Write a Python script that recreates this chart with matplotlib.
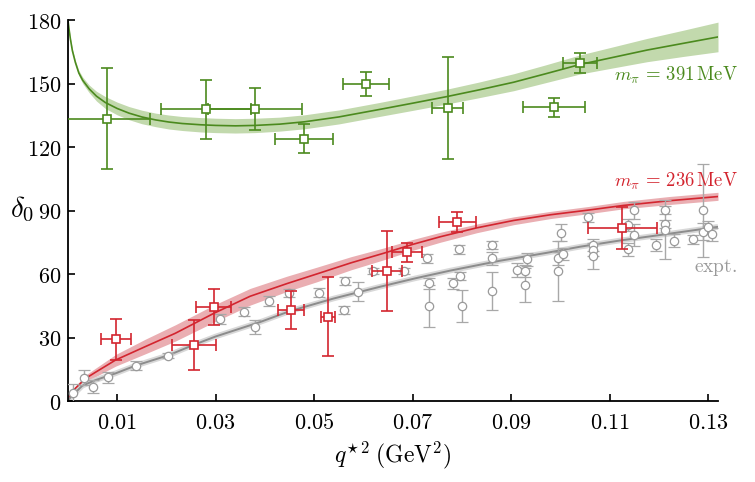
import numpy as np
import matplotlib
matplotlib.use('Agg')
import matplotlib.pyplot as plt
from matplotlib.ticker import FuncFormatter

plt.rcParams['mathtext.fontset'] = 'cm'
plt.rcParams['font.family'] = ['DejaVu Serif']

# --- experimental points (grey circles) ---
expt_x = [0.0011, 0.0032, 0.0051, 0.0081, 0.0139, 0.0204, 0.0309, 0.0358, 0.0380, 0.0409,
          0.0449, 0.0509, 0.0562, 0.0561, 0.0588, 0.0620, 0.0683, 0.0729, 0.0733, 0.0733,
          0.0782, 0.0795, 0.0796, 0.0800, 0.0861, 0.0861, 0.0861, 0.0912, 0.0932, 0.0928,
          0.0928, 0.1001, 0.0996, 0.1006, 0.0996, 0.1057, 0.1067, 0.1067, 0.1066, 0.1138,
          0.1150, 0.1150, 0.1138, 0.1194, 0.1213, 0.1213, 0.1213, 0.1230, 0.1269, 0.1289,
          0.1289, 0.1299, 0.1307]
expt_y = [3.6, 11.0, 6.8, 11.2, 16.7, 21.5, 38.7, 42.2, 35.0, 47.2,
          51.0, 51.2, 56.8, 43.0, 51.6, 61.5, 61.4, 67.4, 55.6, 45.0,
          55.6, 71.6, 59.0, 44.9, 73.7, 67.4, 52.1, 61.9, 66.9, 61.4,
          54.8, 79.5, 67.4, 69.4, 61.4, 86.8, 73.7, 71.3, 68.5, 83.1,
          90.2, 78.4, 71.7, 73.7, 90.2, 83.6, 81.0, 75.7, 76.4, 90.2,
          80.0, 82.0, 78.7]
expt_err = [4.5, 3.5, 3, 2.5, 2, 1, 2.5, 2, 3.5, 2.5,
            2, 2, 2, 2, 4.5, 1.5, 1.5, 2, 2.5, 10,
            2.5, 2, 2, 7.5, 2, 3, 9, 3.5, 3, 3,
            8, 4, 3, 3, 14, 2, 3, 3, 6, 3,
            4, 5, 3, 3, 2, 2, 14, 3, 2, 22,
            4, 3, 3]

# --- lattice, m_pi = 236 MeV (red squares) ---
red_x = [0.0098, 0.0256, 0.0296, 0.0453, 0.0528, 0.0648, 0.0688, 0.0791, 0.1126]
red_y = [29.1, 26.5, 44.3, 43.0, 39.8, 61.4, 70.2, 84.6, 81.6]
red_yerr = [9.5, 12, 8.5, 9, 18.7, 19, 4.4, 4.9, 10]
red_xerr = [0.003, 0.0044, 0.0036, 0.0026, 0.0015, 0.0031, 0.0031, 0.0037, 0.007]

# --- lattice, m_pi = 391 MeV (green squares) ---
grn_x = [0.008, 0.028, 0.038, 0.048, 0.0605, 0.0771, 0.0987, 0.104]
grn_y = [133.4, 137.8, 137.8, 124.0, 149.7, 138.3, 138.7, 159.5]
grn_yerr = [24, 14, 10, 7, 5.6, 24, 4.6, 4.7]
grn_xerr = [0.0087, 0.0092, 0.0095, 0.0059, 0.0047, 0.0031, 0.0063, 0.0035]

# --- fit curves ---
grn_cx = [0.0, 0.0002, 0.0005, 0.0009, 0.0015, 0.0022, 0.003, 0.0043, 0.0058, 0.0076,
          0.0100, 0.0124, 0.015, 0.0178, 0.0205, 0.0232, 0.027, 0.030, 0.034, 0.038,
          0.043, 0.048, 0.055, 0.0634, 0.070, 0.0769, 0.0835, 0.0905, 0.097, 0.104,
          0.111, 0.1176, 0.125, 0.132]
grn_cy = [180.0, 176.0, 171.0, 165.5, 160.0, 155.0, 151.5, 147.5, 144.0, 141.0,
          138.2, 136.0, 134.2, 132.8, 131.8, 131.1, 130.5, 130.2, 130.0, 130.2,
          130.8, 131.9, 134.2, 137.8, 140.7, 143.8, 147.0, 150.6, 154.6, 159.0,
          162.5, 165.8, 169.0, 172.0]
grn_hw = [0.0, 0.3, 0.5, 0.8, 1.0, 1.2, 1.5, 1.8, 2.3, 2.8,
          3.0, 3.1, 3.2, 3.2, 3.3, 3.3, 3.4, 3.4, 3.4, 3.4,
          3.3, 3.3, 3.3, 3.3, 3.4, 3.5, 3.7, 4.0, 4.2, 4.5,
          5.0, 5.5, 6.2, 7.0]

red_cx = [0.0, 0.0005, 0.0015, 0.0036, 0.0056, 0.0097, 0.0157, 0.0218, 0.0296, 0.037,
          0.0445, 0.0505, 0.0575, 0.0641, 0.070, 0.0756, 0.083, 0.0905, 0.098, 0.106,
          0.1128, 0.122, 0.132]
red_cy = [0.0, 3.5, 6.0, 10.7, 13.6, 19.4, 25.7, 32.0, 41.4, 49.5,
          55.5, 60.0, 65.3, 69.8, 74.0, 77.6, 81.8, 85.3, 88.0, 90.3,
          92.4, 94.6, 96.6]
red_up = [0.0, 4.0, 7.0, 12.3, 15.5, 22.0, 29.2, 36.0, 45.3, 53.2,
          59.0, 63.2, 68.2, 72.3, 76.3, 79.7, 83.6, 87.0, 89.6, 92.0,
          94.3, 96.6, 98.6]
red_lo = [0.0, 3.0, 5.0, 9.0, 11.5, 16.5, 22.3, 28.3, 37.2, 45.3,
          51.8, 56.3, 62.0, 66.7, 71.2, 75.0, 79.5, 83.3, 86.2, 88.6,
          90.8, 92.8, 94.8]

gry_cx = [0.0, 0.0005, 0.0012, 0.0029, 0.0056, 0.0097, 0.0137, 0.0205, 0.0255, 0.030,
          0.039, 0.0451, 0.0539, 0.0634, 0.0706, 0.0776, 0.0878, 0.0972, 0.104, 0.112,
          0.122, 0.132]
gry_cy = [0.0, 1.8, 3.3, 7.2, 9.9, 13.1, 16.7, 21.7, 26.5, 30.5,
          37.3, 42.5, 48.4, 54.0, 58.0, 61.6, 66.3, 70.0, 72.9, 75.8,
          79.0, 82.3]

green = '#4b8a1e'
green_band = '#c2d9ad'
red = '#d3252f'
red_band = '#eaaeb2'
grey = '#9a9a9a'

fig = plt.figure(figsize=(7.55, 4.82), dpi=100)
ax = fig.add_axes([0.090, 0.168, 0.861, 0.7905])

# bands
ax.fill_between(grn_cx, np.array(grn_cy) - np.array(grn_hw), np.array(grn_cy) + np.array(grn_hw),
                color=green_band, lw=0, zorder=1)
ax.fill_between(red_cx, red_lo, red_up, color=red_band, lw=0, zorder=1)
ax.plot(gry_cx, gry_cy, color='#d8d8d8', lw=4, solid_capstyle='butt', zorder=1)

# curves
ax.plot(grn_cx, grn_cy, color=green, lw=1.2, zorder=2)
ax.plot(red_cx, red_cy, color=red, lw=1.2, zorder=2)
ax.plot(gry_cx, gry_cy, color='#8c8c8c', lw=1.4, zorder=2)

# points
ax.errorbar(expt_x, expt_y, yerr=expt_err, fmt='o', ms=6, mfc='white', mec=grey, mew=0.9,
            ecolor='#a8a8a8', elinewidth=1.0, capsize=4, capthick=1.0, zorder=3)
ax.errorbar(red_x, red_y, xerr=red_xerr, yerr=red_yerr, fmt='s', ms=6, mfc='white', mec=red,
            mew=1.2, ecolor=red, elinewidth=1.2, capsize=4.5, capthick=1.2, zorder=4)
ax.errorbar(grn_x, grn_y, xerr=grn_xerr, yerr=grn_yerr, fmt='s', ms=6, mfc='white', mec=green,
            mew=1.2, ecolor=green, elinewidth=1.2, capsize=4.5, capthick=1.2, zorder=4)

# labels on the curves
ax.text(0.1361, 154, r'$m_\pi\,=\,391\,\mathrm{MeV}$', color=green, fontsize=13.5,
        ha='right', va='center', clip_on=False)
ax.text(0.1361, 104, r'$m_\pi\,=\,236\,\mathrm{MeV}$', color=red, fontsize=13.5,
        ha='right', va='center', clip_on=False)
ax.text(0.1359, 63, r'$\mathrm{expt.}$', color=grey, fontsize=14,
        ha='right', va='center', clip_on=False)

ax.set_xlim(0, 0.132)
ax.set_ylim(0, 180)
ax.set_xticks([0.01, 0.03, 0.05, 0.07, 0.09, 0.11, 0.13])
ax.set_yticks([0, 30, 60, 90, 120, 150, 180])
fmt = FuncFormatter(lambda v, p: '$%g$' % v)
ax.xaxis.set_major_formatter(fmt)
ax.yaxis.set_major_formatter(fmt)
ax.tick_params(direction='in', length=5, width=1.2, labelsize=16)
ax.tick_params(axis='x', pad=8)
ax.tick_params(axis='y', pad=5)
for s in ['top', 'right']:
    ax.spines[s].set_visible(False)
for s in ['left', 'bottom']:
    ax.spines[s].set_linewidth(1.3)

ax.set_xlabel(r'$q^{\star\,2}\;(\mathrm{GeV}^2)$', fontsize=17, labelpad=4)
ax.set_ylabel(r'$\delta_0$', fontsize=21, rotation=0)
ax.yaxis.set_label_coords(-0.071, 0.465)

plt.savefig('out.png', dpi=100)
